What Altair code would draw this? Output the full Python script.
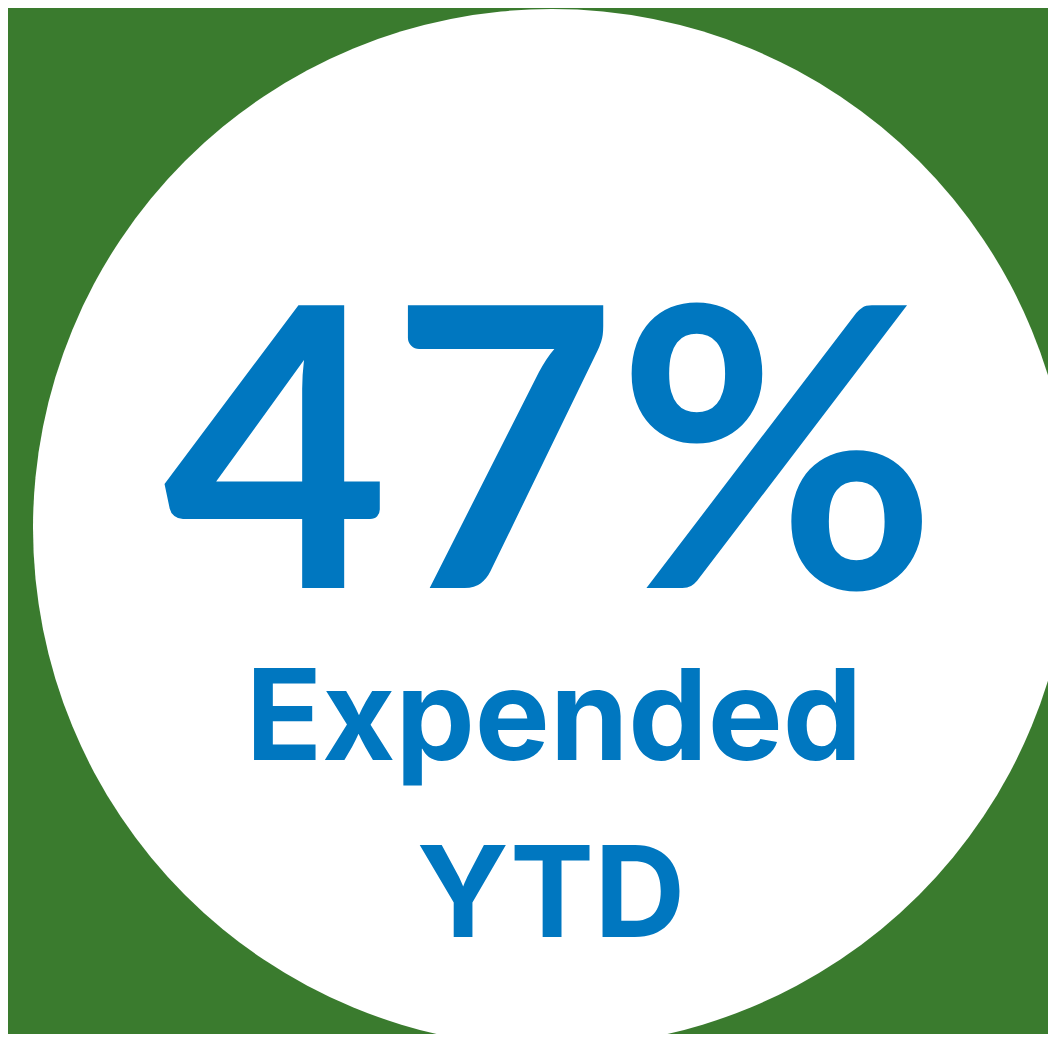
import altair as alt
import pandas as pd

# Data
percent_value = [47]
label_lines = ["Expended", "YTD"]

BLUE = "#0077C0"
GREEN = "#3A7B2E"

base = alt.Chart(pd.DataFrame({"pct": percent_value}))

circle = base.mark_arc(radius=519, theta=0, theta2=6.2832, color="white").encode(
    x=alt.value(544), y=alt.value(520)
)

big = base.mark_text(
    font="Lato", fontWeight="bold", fontSize=391, color=BLUE,
    align="center", baseline="alphabetic"
).encode(
    x=alt.value(542), y=alt.value(580),
    text=alt.Text("label:N")
).transform_calculate(label="datum.pct + '%'")

line_df = pd.DataFrame({"line": label_lines})

line1 = alt.Chart(line_df).transform_filter(
    alt.datum.line == label_lines[0]
).mark_text(
    font="Inter", fontWeight="bold", fontSize=126, color=BLUE,
    align="center", baseline="alphabetic"
).encode(x=alt.value(546), y=alt.value(752), text="line:N")

line2 = alt.Chart(line_df).transform_filter(
    alt.datum.line == label_lines[1]
).mark_text(
    font="Inter", fontWeight="bold", fontSize=126, color=BLUE,
    align="center", baseline="alphabetic"
).encode(x=alt.value(543), y=alt.value(929), text="line:N")

chart = alt.layer(circle, big, line1, line2).properties(
    width=1040, height=1026, background=GREEN, padding=0,
    autosize=alt.AutoSizeParams(type="none")
).configure_view(strokeWidth=0)

chart.save("out.html", embed_options={"renderer": "svg", "actions": False})
